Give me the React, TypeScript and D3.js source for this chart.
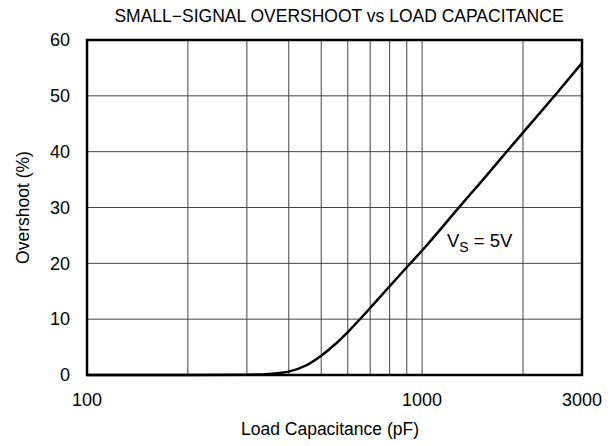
import * as d3 from "d3";

const capacitance = [100, 200, 300, 350, 400, 450, 500, 550, 600, 700, 800, 900, 1000, 1300, 1500, 1800, 2000, 2500, 3000];
const overshoot = [0, 0, 0.05, 0.2, 0.6, 1.7, 3.45, 5.5, 7.7, 12.0, 15.9, 19.3, 22.3, 30.3, 34.6, 40.2, 43.4, 50.2, 55.9];

const xGrid = [200, 300, 400, 500, 600, 700, 800, 900, 1000, 2000];
const xTickLabels = [100, 1000, 3000];
const yTicks = [0, 10, 20, 30, 40, 50, 60];

const W = 615;
const H = 446;
const margin = { top: 40, right: 33, bottom: 71, left: 87 };
const font = "'Liberation Sans', Arial, Helvetica, sans-serif";

export default function App() {
  const x = d3
    .scaleLog()
    .domain([100, 3000])
    .range([margin.left, W - margin.right]);
  const y = d3
    .scaleLinear()
    .domain([0, 60])
    .range([H - margin.bottom, margin.top]);

  const pts = capacitance.map((c, i) => ({ c, v: overshoot[i] }));
  const line = d3
    .line<{ c: number; v: number }>()
    .x((d) => x(d.c))
    .y((d) => y(d.v))
    .curve(d3.curveMonotoneX);

  const x0 = x(100);
  const x1 = x(3000);
  const y0 = y(0);
  const y1 = y(60);

  return (
    <svg
      width={W}
      height={H}
      style={{ position: "absolute", left: 0, top: 0, background: "#fff" }}
      fontFamily={font}
    >
      <rect width={W} height={H} fill="#fff" />
      <text x={339} y={22} textAnchor="middle" fontSize={17.5} fill="#000">
        SMALL−SIGNAL OVERSHOOT vs LOAD CAPACITANCE
      </text>

      {/* grid */}
      {xGrid.map((c) => (
        <line key={"vx" + c} x1={x(c)} x2={x(c)} y1={y1} y2={y0} stroke="#444" strokeWidth={1} />
      ))}
      {yTicks
        .filter((v) => v > 0 && v < 60)
        .map((v) => (
          <line key={"hy" + v} x1={x0} x2={x1} y1={y(v)} y2={y(v)} stroke="#444" strokeWidth={1} />
        ))}

      {/* curve */}
      <path d={line(pts) ?? ""} fill="none" stroke="#000" strokeWidth={2.5} />

      {/* frame */}
      <rect x={x0} y={y1} width={x1 - x0} height={y0 - y1} fill="none" stroke="#000" strokeWidth={2.5} />

      {/* y ticks */}
      {yTicks.map((v) => (
        <text key={"yt" + v} x={70} y={y(v)} dy="0.35em" textAnchor="end" fontSize={18} fill="#000">
          {v}
        </text>
      ))}
      {/* x ticks */}
      {xTickLabels.map((c) => (
        <text key={"xt" + c} x={x(c)} y={406} textAnchor="middle" fontSize={18} fill="#000">
          {c}
        </text>
      ))}

      <text x={330} y={435} textAnchor="middle" fontSize={17.5} fill="#000">
        Load Capacitance (pF)
      </text>
      <text
        transform={`translate(29,${(y0 + y1) / 2}) rotate(-90)`}
        textAnchor="middle"
        fontSize={17.5}
        fill="#000"
      >
        Overshoot (%)
      </text>

      {/* annotation */}
      <text x={447} y={247} fontSize={18.5} fill="#000">
        V
        <tspan fontSize={14} dy={5}>S</tspan>
        <tspan dy={-5}> = 5V</tspan>
      </text>
    </svg>
  );
}
